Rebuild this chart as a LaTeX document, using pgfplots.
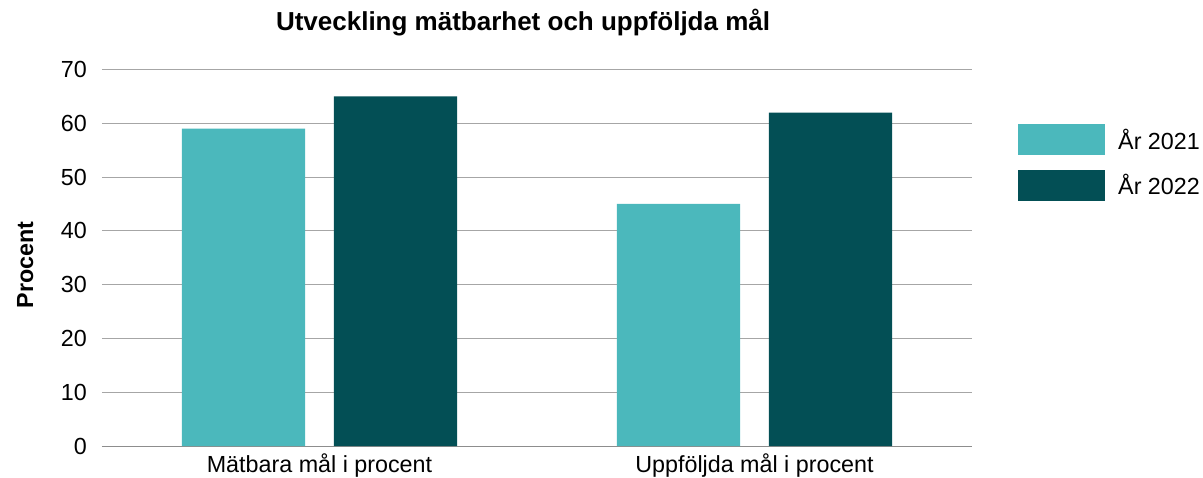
\documentclass[border=0pt]{standalone}
\usepackage{fontspec}
\setmainfont{Liberation Sans}
\usepackage{pgfplots}
\pgfplotsset{compat=1.18}
\definecolor{lightteal}{HTML}{4BB8BC}
\definecolor{darkteal}{HTML}{034F55}
\definecolor{gridgray}{HTML}{A6A6A6}
\begin{document}
\begin{tikzpicture}[font=\fontsize{23.3}{27}\selectfont]
\begin{axis}[
  name=ax,
  scale only axis, width=870pt, height=376.5pt,
  xmin=-0.5, xmax=1.5, ymin=0, ymax=70,
  axis x line*=bottom, axis y line*=left,
  y axis line style={draw=none},
  x axis line style={draw=gridgray!85!black, line width=1pt},
  xtick={0,1}, xticklabels={Mätbara mål i procent, Uppföljda mål i procent},
  ytick={0,10,...,70},
  major tick length=0pt,
  /pgf/number format/assume math mode=true,
  ymajorgrids, grid style={draw=gridgray, line width=1pt},
  yticklabel style={anchor=east, inner sep=0pt, xshift=-15pt},
  xticklabel style={anchor=base, inner sep=0pt, yshift=-26pt},
  ylabel={\bfseries Procent},
  ylabel style={at={(axis description cs:-0.0793,0.4814)}, anchor=base, inner sep=0pt},
  title={\fontsize{26}{30}\selectfont\bfseries Utveckling mätbarhet och uppföljda mål},
  title style={at={(axis description cs:0.484,1)}, anchor=base, inner sep=0pt, yshift=33pt},
  legend style={at={(axis description cs:1.0529,0.855)}, anchor=north west, draw=none, fill=none, inner sep=0pt, row sep=14.5pt, nodes={inner sep=0pt}, /tikz/every odd column/.append style={column sep=13pt}},
  legend cell align=left,
]
\addplot[ybar, bar width=0.283, bar shift=-0.1747, fill=lightteal, draw=none,
  legend image code/.code={\fill[lightteal] (0pt,-15.5pt) rectangle (87pt,15.5pt);}]
  coordinates {(0,59) (1,45)};
\addlegendentry{År 2021}
\addplot[ybar, bar width=0.283, bar shift=0.1747, fill=darkteal, draw=none,
  legend image code/.code={\fill[darkteal] (0pt,-15.5pt) rectangle (87pt,15.5pt);}]
  coordinates {(0,65) (1,62)};
\addlegendentry{År 2022}
\end{axis}
\pgfresetboundingbox
\path (ax.south west) ++(-102pt,-31pt) rectangle ++(1203pt,477pt);
\end{tikzpicture}
\end{document}
